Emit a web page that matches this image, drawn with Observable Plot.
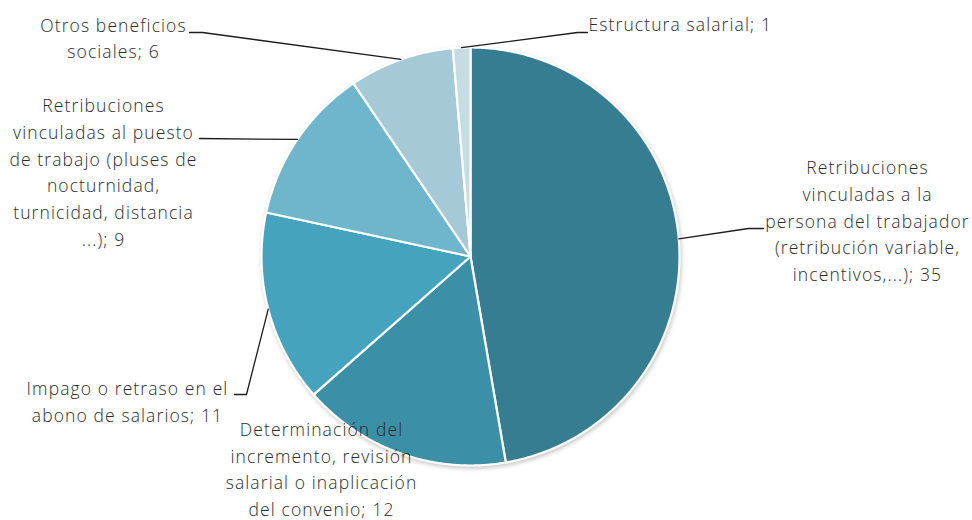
<!DOCTYPE html>
<html><head><meta charset="utf-8">
<script src="https://cdn.jsdelivr.net/npm/d3@7"></script>
<script src="https://cdn.jsdelivr.net/npm/@observablehq/plot@0.6"></script>
<style>
body{margin:0;background:#fff;}
#chart svg{display:block;background:#fff;}
</style>
</head><body><div id="chart"></div>
<script>
// ---- data ----
const categories = [
  "Retribuciones vinculadas a la persona del trabajador",
  "Determinación del incremento, revisión salarial o inaplicación del convenio",
  "Impago o retraso en el abono de salarios",
  "Retribuciones vinculadas al puesto de trabajo",
  "Otros beneficios sociales",
  "Estructura salarial"
];
const values = [35, 12, 11, 9, 6, 1];
const labels = [
  "Retribuciones\nvinculadas a la\npersona del trabajador\n(retribución variable,\nincentivos,...); 35",
  "Determinación del\nincremento, revisión\nsalarial o inaplicación\ndel convenio; 12",
  "Impago o retraso en el\nabono de salarios; 11",
  "Retribuciones\nvinculadas al puesto\nde trabajo (pluses de\nnocturnidad,\nturnicidad, distancia\n...); 9",
  "Otros beneficios\nsociales; 6",
  "Estructura salarial; 1"
];
const colors = ["#367d92", "#3b8fa7", "#45a3bd", "#6fb6cc", "#a6c9d8", "#c6dce5"];

// ---- layout (pixels) ----
const W = 972, H = 520, CX = 470, CY = 256, R = 209;
const labelPos = [
  {x: 867, y: 218.5, anchor: "middle", leader: [[748, 228], [763, 228]]},
  {x: 321, y: 467, anchor: "middle", leader: null},
  {x: 127, y: 399.5, anchor: "middle", leader: [[246, 394], [234, 394]]},
  {x: 103, y: 170, anchor: "middle", leader: [[199, 138]]},
  {x: 113, y: 36, anchor: "middle", leader: [[202, 32], [189, 32]]},
  {x: 588, y: 21.5, anchor: "start", leader: [[577, 32], [587, 32]]}
];
const px = (p) => (p - CX) / R, py = (p) => (p - CY) / R;

// ---- geometry from data ----
const arcs = d3.pie().sort(null).value((d) => d.value)(
  categories.map((c, i) => ({key: c, value: values[i]}))
);
const slicePts = [];
arcs.forEach((a) => {
  slicePts.push({key: a.data.key, x: 0, y: 0});
  const n = Math.max(2, Math.ceil((a.endAngle - a.startAngle) / 0.005));
  for (let k = 0; k <= n; k++) {
    const t = a.startAngle + (a.endAngle - a.startAngle) * k / n;
    slicePts.push({key: a.data.key, x: Math.sin(t), y: -Math.cos(t)});
  }
});
const leaderPts = [];
arcs.forEach((a, i) => {
  const L = labelPos[i];
  if (!L.leader) return;
  const m = (a.startAngle + a.endAngle) / 2;
  leaderPts.push({key: a.data.key, x: Math.sin(m), y: -Math.cos(m)});
  L.leader.forEach(([lx, ly]) => leaderPts.push({key: a.data.key, x: px(lx), y: py(ly)}));
});
const labelData = labels.map((t, i) => ({text: t, x: px(labelPos[i].x), y: py(labelPos[i].y), anchor: labelPos[i].anchor}));

const font = "'Open Sans', Roboto, sans-serif";
const textOpts = {x: "x", y: "y", text: "text", lineAnchor: "middle", fontSize: 17.5, lineHeight: 1.53,
  fill: "#2b2b2b", fontFamily: font, fontWeight: 300};

const chart = Plot.plot({
  width: W, height: H, margin: 0,
  x: {domain: [px(0), px(W)], range: [0, W], axis: null},
  y: {domain: [py(0), py(H)], range: [0, H], axis: null},
  color: {domain: categories, range: colors},
  marks: [
    Plot.line(slicePts, {x: "x", y: "y", z: "key", fill: "key", stroke: "#ffffff", strokeWidth: 2.2,
      curve: "linear-closed", strokeLinejoin: "round"}),
    Plot.line(leaderPts, {x: "x", y: "y", z: "key", stroke: "#1c1c1c", strokeWidth: 1.3, curve: "linear"}),
    Plot.text(labelData.filter((d) => d.anchor === "middle"), {...textOpts, textAnchor: "middle"}),
    Plot.text(labelData.filter((d) => d.anchor === "start"), {...textOpts, textAnchor: "start"})
  ]
});
const g = chart.querySelector('g[aria-label="line"]');
if (g) g.style.filter = "drop-shadow(1px 2px 2px rgba(0,0,0,0.22))";
chart.querySelectorAll("text").forEach((t) => t.style.letterSpacing = "1.1px");
document.getElementById("chart").appendChild(chart);
</script>
</body></html>
